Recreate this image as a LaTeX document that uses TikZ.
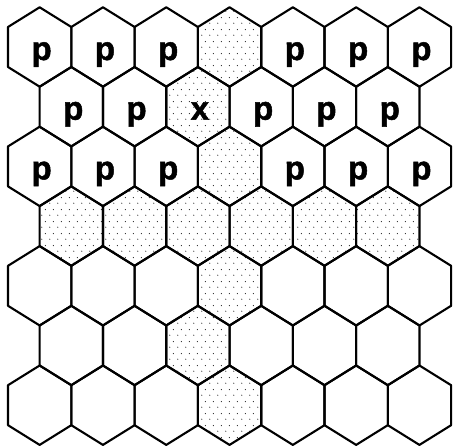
\documentclass[tikz,border=0pt]{standalone}
\usepackage{fontspec}
\setmainfont{Liberation Sans}
\newfontfamily\labfont[FakeBold=1.5]{Liberation Sans}
\usetikzlibrary{patterns}
\pgfdeclarepatternformonly{sparsedots}{\pgfqpoint{0pt}{0pt}}{\pgfqpoint{8pt}{12pt}}{\pgfqpoint{8pt}{12pt}}{%
  \pgfpathcircle{\pgfqpoint{2pt}{3pt}}{0.65pt}%
  \pgfpathcircle{\pgfqpoint{6pt}{9pt}}{0.65pt}%
  \pgfusepath{fill}}
\newcommand\hexpath[2]{(#1,#2-\hc) -- (#1+\ha,#2-\hb) -- (#1+\ha,#2+\hb) -- (#1,#2+\hc) -- (#1-\ha,#2+\hb) -- (#1-\ha,#2-\hb) -- cycle}
\begin{document}
\begin{tikzpicture}[x=1pt,y=-1pt,
  hex/.style={line width=2.1pt, line join=round},
  stip/.style={pattern=sparsedots, pattern color=black!85},
  lab/.style={font=\labfont\bfseries\fontsize{33}{33}\selectfont, anchor=base, inner sep=0pt}]
\def\ha{31.65}\def\hb{20}\def\hc{39.7}
\fill[white] (0,0) rectangle (453,446);
\useasboundingbox (0,0) rectangle (453,446);
% stippled cells
\foreach \r/\k in {0/3,1/2,2/3,3/0,3/1,3/2,3/3,3/4,3/5,4/3,5/2,6/3} {
  \pgfmathsetmacro\cy{47+59.7*\r}
  \pgfmathtruncatemacro\odd{mod(\r,2)}
  \ifnum\odd=0 \def\xo{39.65}\else\def\xo{71.3}\fi
  \pgfmathsetmacro\cx{\xo+63.3*\k}
  \path[stip] \hexpath{\cx}{\cy};
}
% outlines
\foreach \r in {0,...,6} {
  \pgfmathsetmacro\cy{47+59.7*\r}
  \pgfmathtruncatemacro\odd{mod(\r,2)}
  \ifnum\odd=0 \def\n{6}\def\xo{39.65}\else\def\n{5}\def\xo{71.3}\fi
  \foreach \k in {0,...,\n} {
    \pgfmathsetmacro\cx{\xo+63.3*\k}
    \draw[hex] \hexpath{\cx}{\cy};
  }
}
% labels
\foreach \r/\k/\t in {0/0/p,0/1/p,0/2/p,0/4/p,0/5/p,0/6/p,
                      1/0/p,1/1/p,1/2/x,1/3/p,1/4/p,1/5/p,
                      2/0/p,2/1/p,2/2/p,2/4/p,2/5/p,2/6/p} {
  \pgfmathsetmacro\cy{47+59.7*\r}
  \pgfmathtruncatemacro\odd{mod(\r,2)}
  \ifnum\odd=0 \def\xo{39.65}\else\def\xo{71.3}\fi
  \pgfmathsetmacro\cx{\xo+63.3*\k}
  \node[lab] (l\r\k) at (\cx+2,\cy+13) {\t};
}
\end{tikzpicture}
\end{document}
